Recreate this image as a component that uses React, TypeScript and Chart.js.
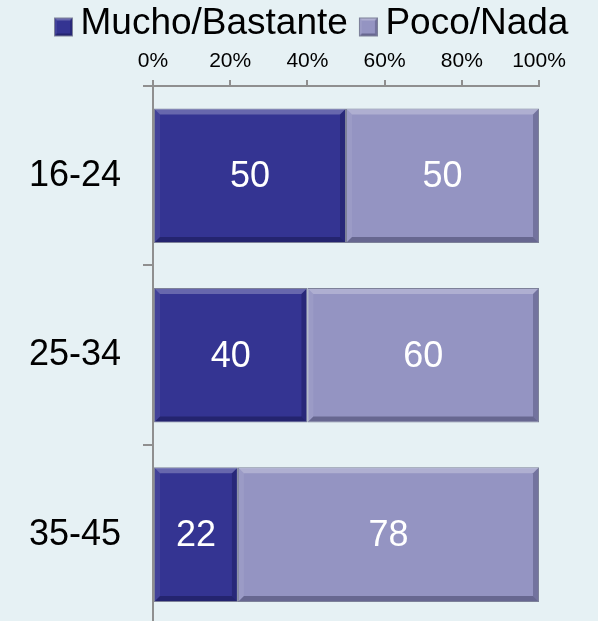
import React, { useEffect, useRef } from 'react';
import { Chart, registerables } from 'chart.js';

Chart.register(...registerables);

// ---- data ----
const categories = ['16-24', '25-34', '35-45'];
const seriesNames = ['Mucho/Bastante', 'Poco/Nada'];
const muchoBastante = [50, 40, 22];
const pocoNada = [50, 60, 78];
const xTickValues = [0, 20, 40, 60, 80, 100];

// ---- style ----
const FONT = '"Liberation Sans", Arial, Helvetica, sans-serif';
const DARK = '#343492';
const LIGHT = '#9494c2';
const BG = '#e6f1f4';
const AXIS = '#8f8f8f';
const OUTLINE = '#7d8199';

function bevel(ctx: CanvasRenderingContext2D, l: number, t: number, r: number, b: number, bw: number) {
  const poly = (pts: number[][], fill: string) => {
    ctx.beginPath();
    ctx.moveTo(pts[0][0], pts[0][1]);
    for (let i = 1; i < pts.length; i++) ctx.lineTo(pts[i][0], pts[i][1]);
    ctx.closePath();
    ctx.fillStyle = fill;
    ctx.fill();
  };
  ctx.save();
  poly([[l, t], [r, t], [r - bw, t + bw], [l + bw, t + bw]], 'rgba(255,255,255,0.25)');
  poly([[l, t], [l + bw, t + bw], [l + bw, b - bw], [l, b]], 'rgba(255,255,255,0.07)');
  poly([[r, t], [r, b], [r - bw, b - bw], [r - bw, t + bw]], 'rgba(0,0,30,0.22)');
  poly([[l, b], [r, b], [r - bw, b - bw], [l + bw, b - bw]], 'rgba(0,0,30,0.30)');
  ctx.restore();
}

function makeSwatch(color: string) {
  const c = document.createElement('canvas');
  c.width = 24;
  c.height = 30;
  const ctx = c.getContext('2d')!;
  const l = 5, t = 9, s = 19;
  ctx.fillStyle = color;
  ctx.fillRect(l, t, s, s);
  bevel(ctx, l, t, l + s, t + s, 3);
  ctx.strokeStyle = OUTLINE;
  ctx.lineWidth = 1;
  ctx.strokeRect(l + 0.5, t + 0.5, s - 1, s - 1);
  return c;
}

const barDecor = {
  id: 'barDecor',
  afterDatasetsDraw(chart: any) {
    const ctx: CanvasRenderingContext2D = chart.ctx;
    chart.data.datasets.forEach((ds: any, di: number) => {
      const meta = chart.getDatasetMeta(di);
      meta.data.forEach((el: any, i: number) => {
        const { x, y, base, height } = el.getProps(['x', 'y', 'base', 'height'], true);
        const l = Math.min(x, base) + 1;
        const r = Math.max(x, base) - 1;
        const t = y - height / 2 + 1;
        const b = y + height / 2 - 1;
        bevel(ctx, l, t, r, b, 5);
        ctx.save();
        ctx.fillStyle = '#ffffff';
        ctx.font = `36px ${FONT}`;
        ctx.textAlign = 'center';
        ctx.textBaseline = 'middle';
        ctx.fillText(String(ds.data[i]), (l + r) / 2, y + 1.5);
        ctx.restore();
      });
    });
  },
};

// moves the legend row right so it sits where the reference has it
const legendShift = {
  id: 'legendShift',
  afterLayout(chart: any) {
    const lg = chart.legend;
    if (lg) {
      lg.left += 30;
      lg.right += 30;
    }
  },
};

export default function App() {
  const ref = useRef<HTMLCanvasElement>(null);

  useEffect(() => {
    if (!ref.current) return;
    const swatches = [makeSwatch(DARK), makeSwatch(LIGHT)];
    const chart = new Chart(ref.current, {
      type: 'bar',
      data: {
        labels: categories,
        datasets: [
          {
            label: seriesNames[0],
            data: muchoBastante,
            backgroundColor: DARK,
            borderColor: OUTLINE,
            borderWidth: 1,
            borderSkipped: false,
            barPercentage: 0.75,
            categoryPercentage: 1,
            xAxisID: 'x',
            yAxisID: 'y',
          },
          {
            label: seriesNames[1],
            data: pocoNada,
            backgroundColor: LIGHT,
            borderColor: OUTLINE,
            borderWidth: 1,
            borderSkipped: false,
            barPercentage: 0.75,
            categoryPercentage: 1,
            xAxisID: 'x',
            yAxisID: 'y',
          },
        ],
      },
      options: {
        indexAxis: 'y',
        animation: false,
        responsive: false,
        devicePixelRatio: 1,
        layout: { padding: { top: -12, left: 13, right: 0, bottom: 0 } },
        plugins: {
          legend: {
            position: 'top',
            align: 'start',
            labels: {
              font: { family: FONT, size: 37 },
              color: '#000000',
              usePointStyle: true,
              pointStyleWidth: 2,
              padding: 17,
              generateLabels: (c: any) =>
                (Chart.defaults.plugins.legend.labels as any)
                  .generateLabels(c)
                  .map((it: any, i: number) => ({ ...it, pointStyle: swatches[i] })),
            },
          },
          tooltip: { enabled: false },
        },
        scales: {
          x: {
            type: 'linear',
            position: 'top',
            stacked: true,
            min: 0,
            max: 100,
            afterBuildTicks: (s: any) => {
              s.ticks = xTickValues.map((v) => ({ value: v }));
            },
            ticks: {
              callback: (v: any) => v + '%',
              font: { family: FONT, size: 21 },
              color: '#000000',
              padding: 6,
            },
            grid: { drawOnChartArea: false, tickLength: 6, color: AXIS, lineWidth: 2 },
            border: { color: AXIS, width: 2 },
            afterFit: (s: any) => {
              s.height = 34;
            },
          },
          y: {
            type: 'category',
            stacked: true,
            offset: true,
            ticks: { font: { family: FONT, size: 36 }, color: '#000000', padding: 22 },
            grid: { offset: true, drawOnChartArea: false, tickLength: 10, color: AXIS, lineWidth: 2 },
            border: { color: AXIS, width: 2 },
            afterFit: (s: any) => {
              s.width = 140;
            },
          },
          yRight: {
            type: 'category',
            position: 'right',
            display: true,
            ticks: { display: false },
            grid: { display: false },
            border: { display: false },
            afterFit: (s: any) => {
              s.width = 59;
            },
          },
        },
      } as any,
      plugins: [barDecor, legendShift],
    });
    return () => chart.destroy();
  }, []);

  return (
    <div
      style={{
        position: 'fixed',
        left: 0,
        top: 0,
        width: 598,
        height: 621,
        overflow: 'hidden',
        background: BG,
      }}
    >
      <canvas ref={ref} width={598} height={668} style={{ width: 598, height: 668, display: 'block' }} />
    </div>
  );
}
